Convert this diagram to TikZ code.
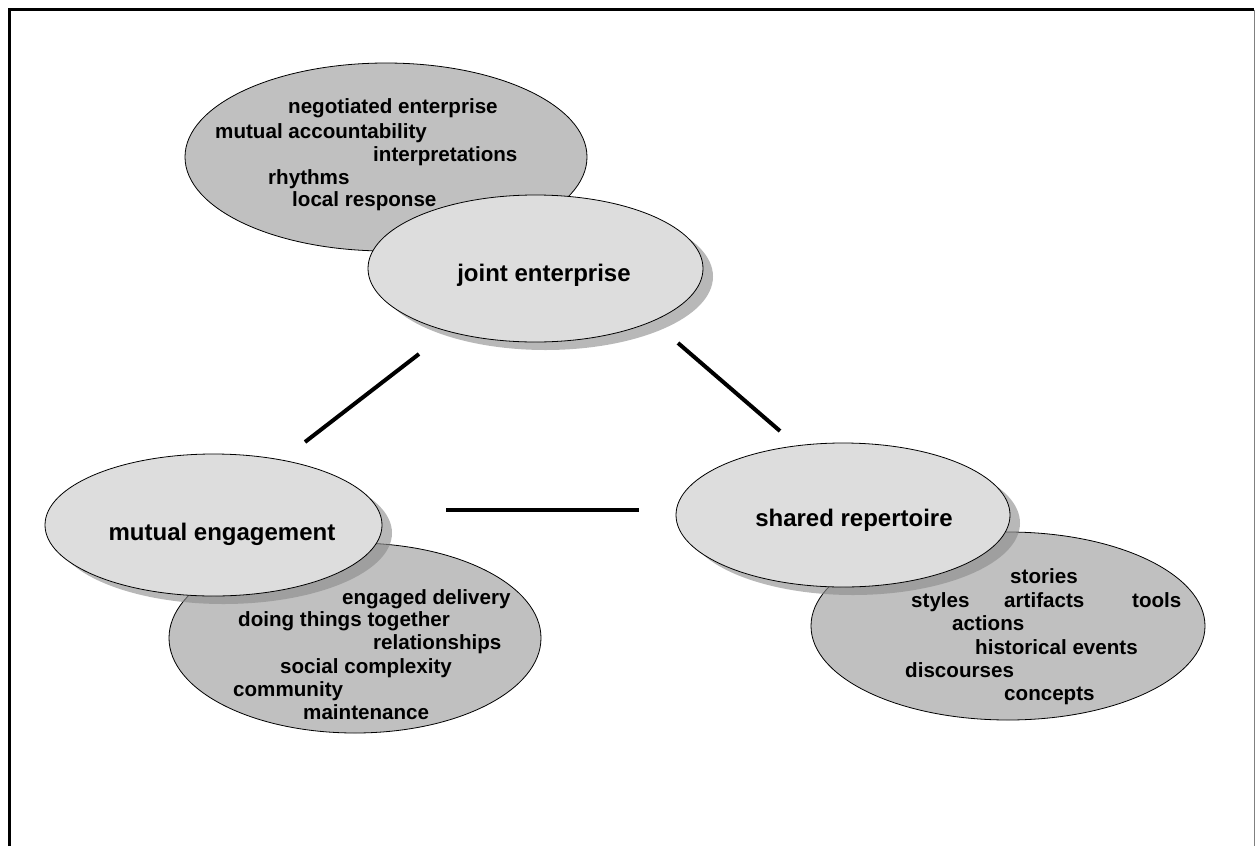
\documentclass[tikz,border=0pt]{standalone}
\usepackage{fontspec}
\setmainfont{Liberation Sans}
\usetikzlibrary{shapes.geometric}
\definecolor{darkfill}{RGB}{192,192,192}
\definecolor{lightfill}{RGB}{221,221,221}
\definecolor{shadowcol}{RGB}{140,140,140}
\tikzset{
  darkell/.style={ellipse, draw=black, line width=0.8pt, fill=darkfill, inner sep=0pt},
  lightell/.style={ellipse, draw=black, line width=0.8pt, fill=lightfill, inner sep=0pt},
  shadowell/.style={ellipse, fill=shadowcol, fill opacity=0.62, inner sep=0pt},
  small/.style={anchor=base west, inner sep=0pt, font=\fontsize{20.6}{22}\selectfont\bfseries},
  big/.style={anchor=base, inner sep=0pt, font=\fontsize{24}{26}\selectfont\bfseries},
  link/.style={line width=4pt, line cap=butt}
}
\begin{document}
\begin{tikzpicture}[x=1pt,y=-1pt]
\useasboundingbox (0,0) rectangle (1255,846);
% frame
\draw[line width=3pt] (9.5,846) -- (9.5,9.5) -- (1254,9.5);
\draw[line width=1pt, gray] (1254,9.5) -- (1254,846);

% dark ellipses
\node[darkell, minimum width=402pt, minimum height=188pt] (jed) at (386,157) {};
\node[darkell, minimum width=372pt, minimum height=190pt] (med) at (355,638) {};
\node[darkell, minimum width=394pt, minimum height=188pt] (srd) at (1008,626) {};

% texts in dark ellipses (positions are baselines)
\node[small] (t1) at (288,113) {negotiated enterprise};
\node[small] (t2) at (215,138) {mutual accountability};
\node[small] (t3) at (373,161) {interpretations};
\node[small] (t4) at (268,184) {rhythms};
\node[small] (t5) at (292,206) {local response};

\node[small] (m1) at (342,604) {engaged delivery};
\node[small] (m2) at (238,626) {doing things together};
\node[small] (m3) at (373,649) {relationships};
\node[small] (m4) at (280,673) {social complexity};
\node[small] (m5) at (233,696) {community};
\node[small] (m6) at (303,719) {maintenance};

\node[small] (s1) at (1010,583) {stories};
\node[small] (s2) at (911,607) {styles};
\node[small] (s3) at (1004,607) {artifacts};
\node[small] (s4) at (1132,607) {tools};
\node[small] (s5) at (952,630) {actions};
\node[small] (s6) at (975,654) {historical events};
\node[small] (s7) at (905,677) {discourses};
\node[small] (s8) at (1004,700) {concepts};

% shadows
\node[shadowell, minimum width=335pt, minimum height=147pt] (jes) at (545.5,276.5) {};
\node[shadowell, minimum width=337pt, minimum height=142pt] (mes) at (223.5,533) {};
\node[shadowell, minimum width=334pt, minimum height=144pt] (srs) at (853,523) {};

% light ellipses
\node[lightell, minimum width=335pt, minimum height=147pt] (je) at (535.5,268.5) {};
\node[lightell, minimum width=337pt, minimum height=142pt] (me) at (213.5,525) {};
\node[lightell, minimum width=334pt, minimum height=144pt] (sr) at (843,515) {};

\node[big] (jet) at (544,281) {joint enterprise};
\node[big] (met) at (222,540) {mutual engagement};
\node[big] (srt) at (854,526) {shared repertoire};

% connectors
\coordinate (a1) at (419,354);
\coordinate (a2) at (305,442);
\coordinate (b1) at (678,343);
\coordinate (b2) at (780,431);
\coordinate (c1) at (446,510);
\coordinate (c2) at (639,510);
\draw[link] (a1) -- (a2);
\draw[link] (b1) -- (b2);
\draw[link] (c1) -- (c2);
\end{tikzpicture}
\end{document}
